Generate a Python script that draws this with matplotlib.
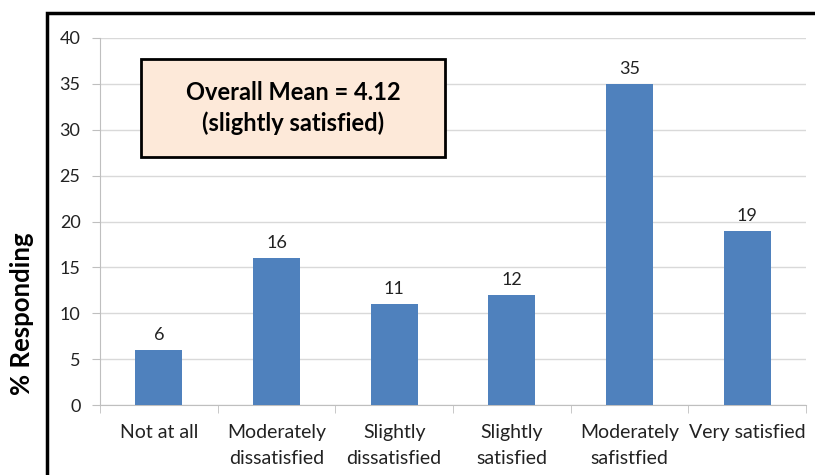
import matplotlib.pyplot as plt
from matplotlib.patches import Rectangle
import numpy as np

categories = ["Not at all", "Moderately\ndissatisfied", "Slightly\ndissatisfied",
              "Slightly\nsatisfied", "Moderately\nsafistfied", "Very satisfied"]
responding = [6, 16, 11, 12, 35, 19]
mean_text = "Overall Mean = 4.12\n(slightly satisfied)"

plt.rcParams['font.family'] = ['Lato', 'DejaVu Sans']

fig = plt.figure(figsize=(8.15, 4.75), dpi=100)
ax = fig.add_axes([100 / 815, 1 - 405 / 475, 706 / 815, 367 / 475])

x = np.arange(len(categories))
bars = ax.bar(x, responding, width=0.4, color="#4f81bd", zorder=3)
for b, v in zip(bars, responding):
    ax.annotate(str(v), (b.get_x() + b.get_width() / 2, v), xytext=(0, 5),
                textcoords="offset points", ha="center", va="bottom",
                fontsize=13, color="#222222")

ax.set_xlim(-0.5, len(categories) - 0.5)
ax.set_ylim(0, 40)
ax.set_yticks(range(0, 41, 5))
ax.set_xticks(x)
ax.set_xticklabels(categories, fontsize=14, color="#222222")
for lbl in ax.get_xticklabels():
    lbl.set_linespacing(1.6)
ax.set_xticks(np.arange(-0.5, len(categories), 1), minor=True)
ax.tick_params(axis="x", which="major", length=0, pad=14)
ax.tick_params(axis="x", which="minor", length=6, color="#bfbfbf")
ax.tick_params(axis="y", length=6, color="#bfbfbf", labelsize=13,
               labelcolor="#222222", pad=8)
ax.grid(axis="y", color="#d9d9d9", linewidth=1, zorder=0)
for s in ["top", "right"]:
    ax.spines[s].set_visible(False)
for s in ["left", "bottom"]:
    ax.spines[s].set_color("#bfbfbf")

# mean summary box
ax.add_patch(Rectangle((-0.152, 27.0), 2.584, 10.7, fc="#fde9d9", ec="black",
                       lw=2, zorder=5))
ax.text(1.14, 32.35, mean_text, ha="center", va="center", fontsize=17,
        fontweight="bold", linespacing=1.4, zorder=6)

fig.text(22 / 815, 1 - 314 / 475, "% Responding", rotation=90, ha="center",
         va="center", fontsize=18.5, fontweight="bold")

# outer chart frame
fig.patches.append(Rectangle((47 / 815, -0.1), 1, 1 - 13 / 475 + 0.1,
                             transform=fig.transFigure, fill=False,
                             ec="black", lw=2.5))

fig.savefig("out.png", dpi=100)
